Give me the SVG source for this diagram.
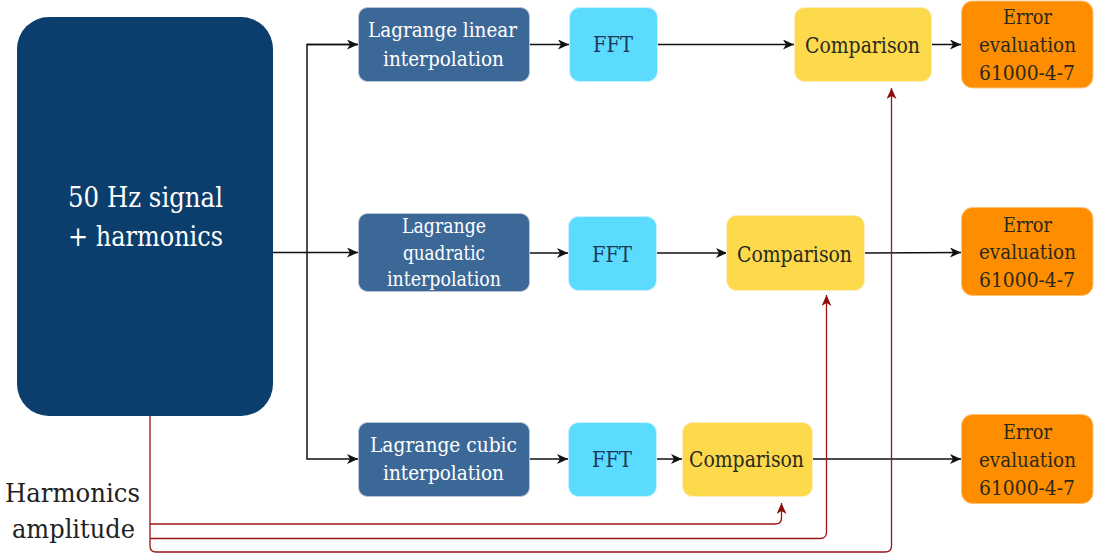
<svg xmlns="http://www.w3.org/2000/svg" width="1094" height="556" viewBox="0 0 1094 556">
  <style>
    .t { text-anchor: middle; }
    .src { fill: #0b3d6d; }
    .lag { fill: #3c6897; stroke: #b9c6d6; stroke-width: 1; }
    .fft { fill: #5bdbfe; stroke: #c9f1fd; stroke-width: 1; }
    .cmp { fill: #fdd94c; stroke: #fbeec0; stroke-width: 1; }
    .err { fill: #fe8e00; stroke: #ffc47a; stroke-width: 1; }
    .wt { fill: #ffffff; }
    .bt { fill: #1b3a5a; }
    .dt { fill: #2a2a1e; }
    .ln { fill: none; stroke: #111111; stroke-width: 1.5; }
    .rd { fill: none; stroke: #9c1515; stroke-width: 1.3; }
  </style>
  <defs>
    <marker id="arrow" markerWidth="12" markerHeight="10" refX="11" refY="5" orient="auto" markerUnits="userSpaceOnUse">
      <path d="M0,0 L11,5 L0,10 L3,5 Z" fill="#111111"/>
    </marker>
    <marker id="arrowRed" markerWidth="12" markerHeight="10" refX="11" refY="5" orient="auto" markerUnits="userSpaceOnUse">
      <path d="M0,0 L11,5 L0,10 L3,5 Z" fill="#8e0d0d"/>
    </marker>
  </defs>

  <!-- connectors -->
  <g id="connectors">
    <path class="ln" d="M273,252.5 H358" marker-end="url(#arrow)"/>
    <path class="ln" d="M358,44.5 H307 V459 H358" marker-end="url(#arrow)"/>
    <path class="ln" d="M307,44.5 H358" marker-end="url(#arrow)"/>
    <path class="ln" d="M530,44.5 H569" marker-end="url(#arrow)"/>
    <path class="ln" d="M658,44.5 H794" marker-end="url(#arrow)"/>
    <path class="ln" d="M932,44.5 H961" marker-end="url(#arrow)"/>
    <path class="ln" d="M530,253 H568" marker-end="url(#arrow)"/>
    <path class="ln" d="M657,253 H727" marker-end="url(#arrow)"/>
    <path class="ln" d="M865,253 L961,252.5" marker-end="url(#arrow)"/>
    <path class="ln" d="M530,459 H568" marker-end="url(#arrow)"/>
    <path class="ln" d="M657,459 H682" marker-end="url(#arrow)"/>
    <path class="ln" d="M813,459 H961" marker-end="url(#arrow)"/>
    <!-- harmonics amplitude feeds -->
    <path class="rd" d="M150,416 V546 Q150,552 156,552 H885 Q891.5,552 891.5,546 V88" marker-end="url(#arrowRed)"/>
    <path class="rd" d="M150,538.5 H820 Q826.5,538.5 826.5,532 V295" marker-end="url(#arrowRed)"/>
    <path class="rd" d="M150,524 H775 Q781.5,524 781.5,518 V503" marker-end="url(#arrowRed)"/>
  </g>

  <g font-family="DejaVu Serif, serif" lengthAdjust="spacingAndGlyphs">
  <g id="source">
    <rect class="src" x="17" y="17" width="256" height="399" rx="32"/>
    <text class="t wt" x="145.5" y="207" font-size="27" textLength="155" lengthAdjust="spacingAndGlyphs">50 Hz signal</text>
    <text class="t wt" x="145.5" y="246" font-size="27" textLength="155" lengthAdjust="spacingAndGlyphs">+ harmonics</text>
  </g>

  <g id="harmonics-label">
    <text class="t" x="72.5" y="502" font-size="26" fill="#222222" textLength="135" lengthAdjust="spacingAndGlyphs">Harmonics</text>
    <text class="t" x="73.5" y="538" font-size="26" fill="#222222" textLength="123" lengthAdjust="spacingAndGlyphs">amplitude</text>
  </g>

  <g id="lagrange-linear">
    <rect class="lag" x="358.5" y="7.5" width="171" height="74" rx="9"/>
    <text class="t wt" x="442.5" y="37" font-size="21" textLength="149" lengthAdjust="spacingAndGlyphs">Lagrange linear</text>
    <text class="t wt" x="443.5" y="66" font-size="21" textLength="121" lengthAdjust="spacingAndGlyphs">interpolation</text>
  </g>
  <g id="lagrange-quadratic">
    <rect class="lag" x="358.5" y="213.5" width="171" height="78" rx="9"/>
    <text class="t wt" x="444" y="233" font-size="20" textLength="84" lengthAdjust="spacingAndGlyphs">Lagrange</text>
    <text class="t wt" x="444" y="260" font-size="20" textLength="82" lengthAdjust="spacingAndGlyphs">quadratic</text>
    <text class="t wt" x="444" y="286" font-size="20" textLength="114" lengthAdjust="spacingAndGlyphs">interpolation</text>
  </g>
  <g id="lagrange-cubic">
    <rect class="lag" x="358.5" y="422.5" width="171" height="74" rx="9"/>
    <text class="t wt" x="443.5" y="452" font-size="21" textLength="147" lengthAdjust="spacingAndGlyphs">Lagrange cubic</text>
    <text class="t wt" x="443.5" y="480" font-size="21" textLength="121" lengthAdjust="spacingAndGlyphs">interpolation</text>
  </g>

  <g id="fft-1">
    <rect class="fft" x="569.5" y="7.5" width="88" height="74" rx="10"/>
    <text class="t bt" x="613" y="52" font-size="21.5" textLength="40" lengthAdjust="spacingAndGlyphs">FFT</text>
  </g>
  <g id="fft-2">
    <rect class="fft" x="568.5" y="216.5" width="88" height="74" rx="10"/>
    <text class="t bt" x="612" y="262" font-size="21.5" textLength="40" lengthAdjust="spacingAndGlyphs">FFT</text>
  </g>
  <g id="fft-3">
    <rect class="fft" x="568.5" y="422.5" width="88" height="74" rx="10"/>
    <text class="t bt" x="612" y="467" font-size="21.5" textLength="40" lengthAdjust="spacingAndGlyphs">FFT</text>
  </g>

  <g id="comparison-1">
    <rect class="cmp" x="794.5" y="7.5" width="137" height="74" rx="10"/>
    <text class="t dt" x="862.5" y="53" font-size="23" textLength="115" lengthAdjust="spacingAndGlyphs">Comparison</text>
  </g>
  <g id="comparison-2">
    <rect class="cmp" x="726.5" y="215.5" width="138" height="75" rx="10"/>
    <text class="t dt" x="794.5" y="262" font-size="23" textLength="115" lengthAdjust="spacingAndGlyphs">Comparison</text>
  </g>
  <g id="comparison-3">
    <rect class="cmp" x="682.5" y="422.5" width="130" height="74" rx="10"/>
    <text class="t dt" x="746.5" y="467" font-size="23" textLength="115" lengthAdjust="spacingAndGlyphs">Comparison</text>
  </g>

  <g id="error-1">
    <rect class="err" x="961.5" y="1" width="131.5" height="87" rx="11"/>
    <text class="t dt" x="1027.5" y="24" font-size="20.5" textLength="49" lengthAdjust="spacingAndGlyphs">Error</text>
    <text class="t dt" x="1027.5" y="52" font-size="20.5" textLength="97" lengthAdjust="spacingAndGlyphs">evaluation</text>
    <text class="t dt" x="1027" y="80" font-size="20.5" textLength="96" lengthAdjust="spacingAndGlyphs">61000-4-7</text>
  </g>
  <g id="error-2">
    <rect class="err" x="961.5" y="207.5" width="131.5" height="88" rx="11"/>
    <text class="t dt" x="1027.5" y="232" font-size="20.5" textLength="49" lengthAdjust="spacingAndGlyphs">Error</text>
    <text class="t dt" x="1027.5" y="259" font-size="20.5" textLength="97" lengthAdjust="spacingAndGlyphs">evaluation</text>
    <text class="t dt" x="1027" y="287" font-size="20.5" textLength="96" lengthAdjust="spacingAndGlyphs">61000-4-7</text>
  </g>
  <g id="error-3">
    <rect class="err" x="961.5" y="414.5" width="131.5" height="89" rx="11"/>
    <text class="t dt" x="1027.5" y="439" font-size="20.5" textLength="49" lengthAdjust="spacingAndGlyphs">Error</text>
    <text class="t dt" x="1027.5" y="467" font-size="20.5" textLength="97" lengthAdjust="spacingAndGlyphs">evaluation</text>
    <text class="t dt" x="1027" y="495" font-size="20.5" textLength="96" lengthAdjust="spacingAndGlyphs">61000-4-7</text>
  </g>
  </g>
</svg>
